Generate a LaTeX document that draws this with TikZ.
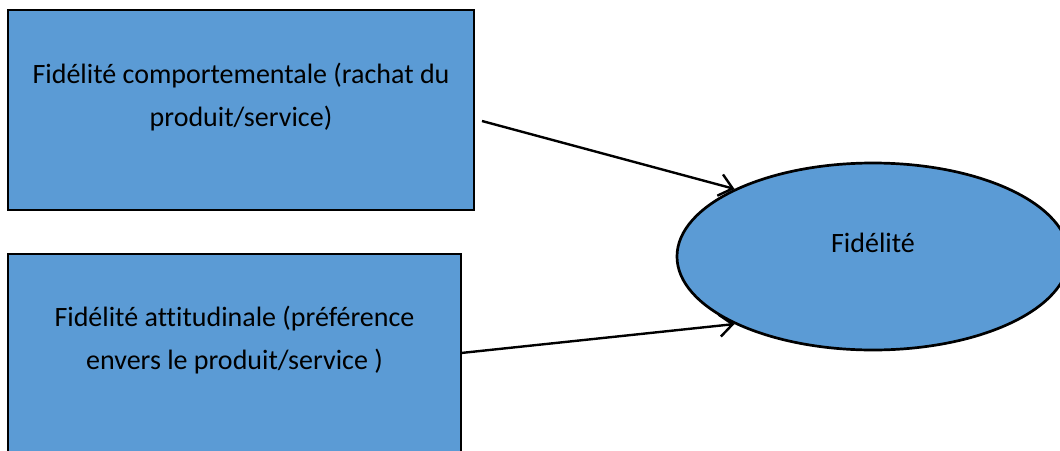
\documentclass[tikz,border=0pt]{standalone}
\usepackage{fontspec}
\setmainfont[Ligatures=NoCommon]{Carlito}
\usetikzlibrary{arrows.meta,shapes.geometric}
\definecolor{wordblue}{HTML}{5B9BD5}
\tikzset{
  box/.style={draw=black, line width=2.7pt, fill=wordblue, rectangle, inner sep=0pt},
  oval/.style={draw=black, line width=2.7pt, fill=wordblue, ellipse, inner sep=0pt},
  lbl/.style={font=\fontsize{28}{43}\selectfont, align=center, inner sep=0pt, text=black},
  conn/.style={line width=2.4pt, -{Straight Barb[length=13pt,width=22pt,line width=2.4pt]}}
}
\begin{document}
\begin{tikzpicture}[x=1pt,y=-1pt]
\useasboundingbox (0,0) rectangle (1060,450);
\clip (0,0) rectangle (1060,450);
\node[box, minimum width=466pt, minimum height=200pt] (b1) at (241,110) {};
\node[box, minimum width=453pt, minimum height=230pt] (b2) at (234.5,369) {};
\node[oval, minimum width=392pt, minimum height=187pt] (e) at (873,256.5) {};
\node[lbl] (t1) at (241,97) {Fidélité comportementale (rachat du\\produit/service)};
\node[lbl] (t2) at (234.5,340) {Fidélité attitudinale (préférence\\envers le produit/service )};
\node[lbl] (t3) at (873,243) {Fidélité};
\coordinate (s1) at (482,121);
\coordinate (s2) at (461,353);
\draw[conn] (s1) -- (e.154);
\draw[conn] (s2) -- (e.206);
\end{tikzpicture}
\end{document}
